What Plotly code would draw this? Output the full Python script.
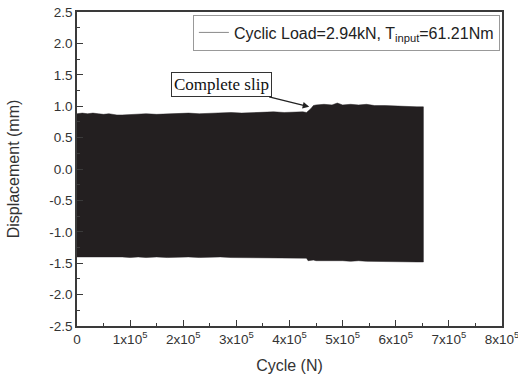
import plotly.graph_objects as go

# Envelope of the cyclic displacement signal
cycles = [0, 0.1e5, 0.2e5, 0.3e5, 0.4e5, 0.5e5, 0.6e5, 0.75e5, 0.85e5, 1.0e5, 1.15e5,
          1.3e5, 1.5e5, 1.7e5, 1.9e5, 2.1e5, 2.3e5, 2.5e5, 2.7e5, 2.9e5, 3.1e5,
          3.3e5, 3.5e5, 3.7e5, 3.9e5, 4.1e5, 4.25e5, 4.32e5, 4.35e5, 4.4e5, 4.45e5,
          4.5e5, 4.65e5, 4.8e5, 4.9e5, 5.0e5, 5.15e5, 5.3e5, 5.45e5, 5.6e5, 5.8e5,
          6.0e5, 6.2e5, 6.4e5, 6.52e5]
upper = [0.88, 0.89, 0.88, 0.89, 0.88, 0.87, 0.88, 0.86, 0.86, 0.87, 0.87,
         0.88, 0.87, 0.88, 0.88, 0.89, 0.88, 0.89, 0.89, 0.90, 0.89,
         0.90, 0.90, 0.91, 0.90, 0.91, 0.91, 0.90, 0.92, 0.96, 1.01,
         1.02, 1.03, 1.02, 1.05, 1.02, 1.03, 1.02, 1.03, 1.01, 1.01,
         1.00, 1.00, 0.99, 0.99]
lower = [-1.40, -1.41, -1.40, -1.40, -1.41, -1.40, -1.41, -1.40, -1.40, -1.41, -1.40,
         -1.41, -1.40, -1.41, -1.41, -1.40, -1.41, -1.41, -1.40, -1.41, -1.42,
         -1.41, -1.42, -1.41, -1.42, -1.42, -1.42, -1.42, -1.46, -1.46, -1.45,
         -1.46, -1.46, -1.47, -1.46, -1.46, -1.47, -1.46, -1.47, -1.47, -1.47,
         -1.47, -1.48, -1.48, -1.48]

x_ticks = [0, 1e5, 2e5, 3e5, 4e5, 5e5, 6e5, 7e5, 8e5]
x_ticktext = ["0"] + [f"{i}x10<sup>5</sup>" for i in range(1, 9)]
y_ticks = [2.5, 2.0, 1.5, 1.0, 0.5, 0.0, -0.5, -1.0, -1.5, -2.0, -2.5]
y_ticktext = [f"{v:.1f}" for v in y_ticks]

legend_label = "Cyclic Load=2.94kN, T<sub>input</sub>=61.21Nm"
annot_text = "Complete slip"
slip_point = (4.37e5, 0.99)

fig = go.Figure()
fig.add_trace(go.Scatter(
    x=cycles + cycles[::-1], y=upper + lower[::-1],
    fill="toself", fillcolor="#231f20", mode="lines",
    line=dict(color="#231f20", width=0.5), showlegend=False, hoverinfo="skip"))
fig.add_trace(go.Scatter(
    x=[None], y=[None], mode="lines", name=legend_label,
    line=dict(color="#8a8a8a", width=1)))

axis_common = dict(
    showgrid=False, zeroline=False, showline=True, linecolor="#3a3a3a", linewidth=1.5,
    mirror=True, ticks="inside", ticklen=6, tickwidth=1.2, tickcolor="#3a3a3a",
    tickfont=dict(family="Liberation Sans, Arial", size=13.5, color="#333"),
    ticklabeloverflow="allow", automargin=False,
)
fig.update_xaxes(
    range=[0, 8e5], tickvals=x_ticks, ticktext=x_ticktext,
    minor=dict(ticks="inside", ticklen=3, tickwidth=1.2, tickcolor="#3a3a3a", dtick=0.5e5, tick0=0),
    title=dict(text="Cycle (N)", font=dict(family="Liberation Sans, Arial", size=16, color="#333"), standoff=14),
    **axis_common)
fig.update_yaxes(
    range=[-2.5, 2.5], tickvals=y_ticks, ticktext=y_ticktext,
    minor=dict(ticks="inside", ticklen=3, tickwidth=1.2, tickcolor="#3a3a3a", dtick=0.25, tick0=0),
    title=dict(text="Displacement (mm)", font=dict(family="Liberation Sans, Arial", size=16, color="#333"), standoff=26),
    **axis_common)

fig.add_annotation(
    x=slip_point[0], y=slip_point[1], xref="x", yref="y",
    text=annot_text, showarrow=True, arrowhead=2, arrowsize=1, arrowwidth=1.3,
    arrowcolor="#222", ax=-88, ay=-22,
    font=dict(family="Liberation Serif, Times New Roman", size=17, color="#111"),
    bordercolor="#333", borderwidth=1, borderpad=2, bgcolor="white")

fig.update_layout(
    width=518, height=378,
    margin=dict(l=77, r=16, t=12, b=52),
    paper_bgcolor="white", plot_bgcolor="white",
    legend=dict(x=0.995, y=0.992, xanchor="right", yanchor="top",
                bordercolor="#999", borderwidth=1, bgcolor="white",
                font=dict(family="Liberation Sans, Arial", size=16, color="#222"),
                tracegroupgap=0, itemwidth=30),
)
fig.write_html("out.html")
